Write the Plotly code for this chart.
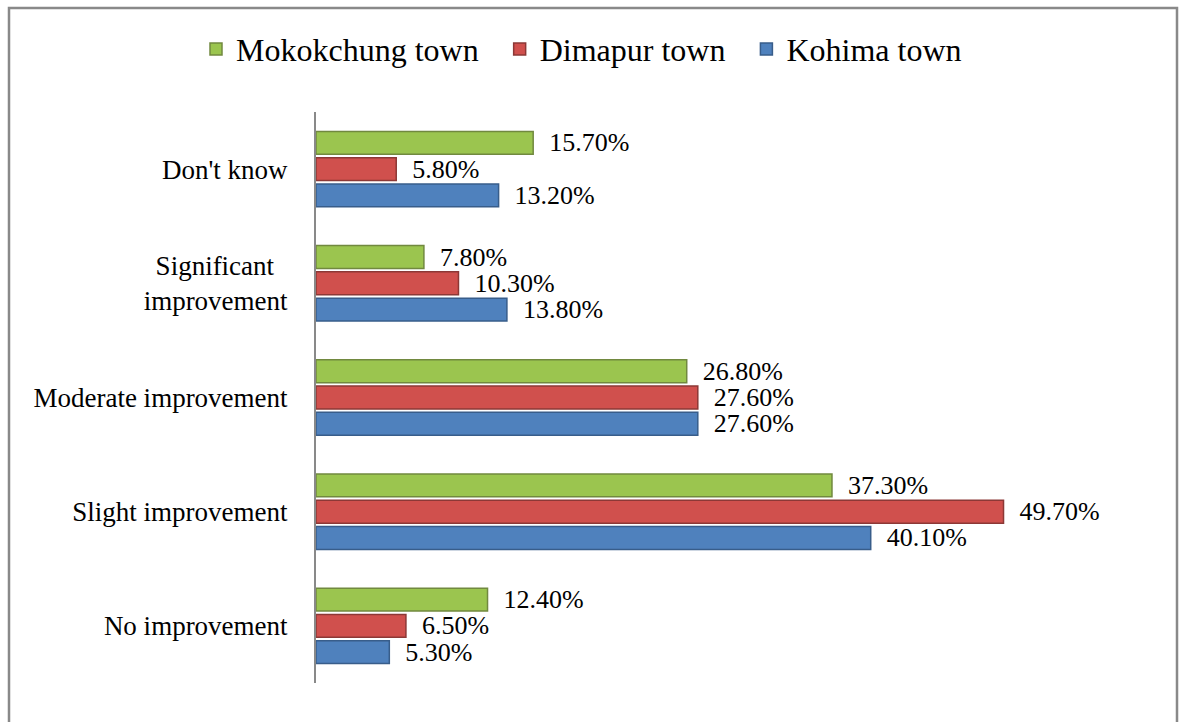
import plotly.graph_objects as go

categories = ["No improvement", "Slight improvement", "Moderate improvement",
              "Significant\u00a0\u00a0<br>improvement", "Don't know"]
kohima = [5.3, 40.1, 27.6, 13.8, 13.2]
dimapur = [6.5, 49.7, 27.6, 10.3, 5.8]
mokokchung = [12.4, 37.3, 26.8, 7.8, 15.7]

series = [
    ("Kohima town", kohima, "#4F81BD", "#385D8A"),
    ("Dimapur town", dimapur, "#D0504D", "#8C3836"),
    ("Mokokchung town", mokokchung, "#9BC54F", "#71893F"),
]

W, H = 1179, 722
L, R, T, B = 316, 33, 112, 39
pw = W - L - R
ph = H - T - B

fig = go.Figure()
for name, vals, col, edge in series:
    fig.add_trace(go.Bar(
        y=categories, x=vals, name=name + "\u00a0\u00a0", orientation="h",
        marker=dict(color=col, line=dict(color=edge, width=1.5)),
        text=[f"\u00a0\u00a0{v:.2f}%" for v in vals], textposition="outside",
        textfont=dict(family="Liberation Serif", size=26, color="black"),
        constraintext="none", cliponaxis=False,
    ))

def px_x(px):
    return (px - L) / pw

def px_y(py):
    return (H - B - py) / ph

fig.add_shape(type="rect", xref="paper", yref="paper",
              x0=px_x(9), x1=px_x(1177), y0=px_y(735), y1=px_y(8),
              line=dict(color="#898989", width=2.5), fillcolor="rgba(0,0,0,0)")

fig.update_layout(
    width=W, height=H,
    margin=dict(l=L, r=R, t=T, b=B),
    paper_bgcolor="white", plot_bgcolor="white",
    barmode="group", bargap=0.31, bargroupgap=0.13,
    font=dict(family="Liberation Serif", color="black"),
    legend=dict(orientation="h", traceorder="reversed",
                x=0.5, xanchor="center",
                xref="container", yref="container", y=0.932, yanchor="middle",
                font=dict(family="Liberation Serif", size=32),
                itemwidth=30, tracegroupgap=0),
    xaxis=dict(range=[0, 60], showgrid=False, zeroline=False, showticklabels=False,
               showline=False, ticks=""),
    yaxis=dict(showgrid=False, showline=True, linecolor="#898989", linewidth=2,
               ticks="", ticklabelstandoff=21,
               tickfont=dict(family="Liberation Serif", size=27, color="black")),
    showlegend=True,
)

fig.write_html("out.html", config={"displayModeBar": False},
               post_script="document.body.style.margin='0';")
